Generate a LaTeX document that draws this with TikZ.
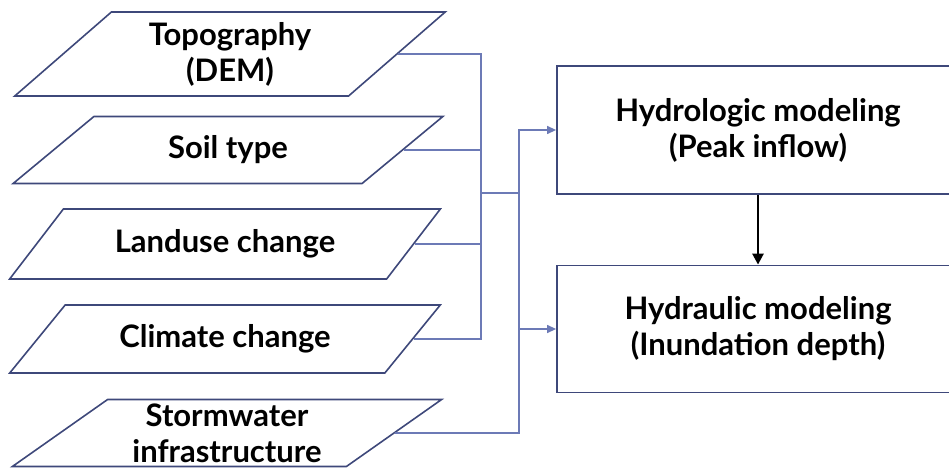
\documentclass[tikz,border=0pt]{standalone}
\usepackage{fontspec}
\setmainfont{Lato}
\usetikzlibrary{shapes.geometric,arrows.meta}
\definecolor{edgeblue}{RGB}{62,72,122}
\definecolor{linkblue}{RGB}{108,122,182}
\begin{document}
\begin{tikzpicture}[x=1pt,y=-1pt,
layer/.style={draw=edgeblue,line width=1.6pt,trapezium,trapezium stretches=true,
  trapezium left angle=38,trapezium right angle=142,
  minimum width=431pt,minimum height=68pt,inner sep=0pt,align=center},
model/.style={draw=edgeblue,line width=1.8pt,minimum width=402pt,minimum height=128pt,align=center},
link/.style={draw=linkblue,line width=1.3pt},
tip/.style={-{Triangle[length=9pt,width=8pt]}},
every node/.style={font=\fontsize{31}{36}\selectfont\bfseries}
]
\useasboundingbox (0,0) rectangle (949,470);
% input layers
\node[layer,trapezium left angle=44,trapezium right angle=136,minimum height=84pt] (topo) at (230,54) {Topography\\(DEM)};
\node[layer,minimum height=67pt] (soil) at (228,150) {Soil type};
\node[layer,minimum height=70pt] (land) at (225,244) {Landuse change};
\node[layer] (clim) at (225,339) {Climate change};
\node[layer,minimum height=67pt] (storm) at (227,433) {Stormwater\\infrastructure};
% models
\node[model] (hydro) at (758,130) {Hydrologic modeling\\(Peak inflow)};
\node[model,minimum height=127pt] (hydra) at (758,329) {Hydraulic modeling\\(Inundation depth)};
% connectors
\coordinate (bus) at (481,0);
\coordinate (split) at (519,0);
\coordinate (merge) at (481,193);
\draw[link] (topo.east) -| (bus |- clim.east) -- (clim.east);
\draw[link] (soil.east) -- (soil.east -| bus);
\draw[link] (land.east) -- (land.east -| bus);
\draw[link,tip] (merge) -- (merge -| split) |- (hydro.west);
\draw[link,tip] (merge -| split) |- (hydra.west);
\draw[link] (storm.east) -| (split |- hydra.west);
\draw[line width=2.6pt,-{Triangle[length=11pt,width=11pt]}] (hydro) -- (hydra);
\end{tikzpicture}
\end{document}
